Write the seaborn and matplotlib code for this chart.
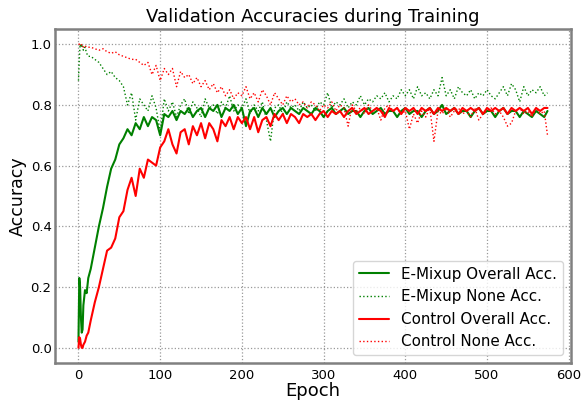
import numpy as np
import pandas as pd
import matplotlib
matplotlib.use("Agg")
import matplotlib.pyplot as plt
import seaborn as sns

epochs = [0, 1, 2, 3, 4, 5, 6, 8, 10, 12] + list(range(15, 571, 5)) + [574]

emix_overall = [
    0.02, 0.23, 0.20, 0.10, 0.05, 0.06, 0.14, 0.19, 0.18, 0.23,
    0.26, 0.33, 0.40, 0.46, 0.53, 0.59, 0.62, 0.67, 0.69, 0.72,
    0.70, 0.74, 0.72, 0.76, 0.73, 0.76, 0.75, 0.70, 0.77, 0.76,
    0.78, 0.75, 0.78, 0.77, 0.79, 0.76, 0.78, 0.79, 0.76, 0.79,
    0.78, 0.80, 0.76, 0.79, 0.78, 0.80, 0.77, 0.79, 0.73, 0.78,
    0.79, 0.76, 0.79, 0.77, 0.79, 0.76, 0.78, 0.79, 0.77, 0.79,
    0.78, 0.77, 0.79, 0.78, 0.77, 0.79, 0.78, 0.76, 0.78, 0.79,
    0.77, 0.78, 0.79, 0.77, 0.78, 0.78, 0.76, 0.78, 0.79, 0.77,
    0.78, 0.79, 0.77, 0.78, 0.78, 0.76, 0.78, 0.79, 0.77, 0.78,
    0.78, 0.76, 0.78, 0.79, 0.77, 0.78, 0.80, 0.77, 0.78, 0.79,
    0.77, 0.78, 0.78, 0.76, 0.78, 0.79, 0.77, 0.78, 0.78, 0.76,
    0.78, 0.79, 0.77, 0.78, 0.78, 0.76, 0.78, 0.77, 0.76, 0.78,
    0.77, 0.76, 0.78,
]

emix_none = [
    0.88, 0.95, 1.00, 0.99, 1.00, 0.99, 0.98, 0.99, 0.97, 0.96,
    0.96, 0.95, 0.94, 0.92, 0.90, 0.91, 0.89, 0.88, 0.86, 0.80,
    0.84, 0.75, 0.82, 0.80, 0.78, 0.83, 0.79, 0.71, 0.82, 0.78,
    0.81, 0.76, 0.80, 0.82, 0.77, 0.81, 0.79, 0.76, 0.82, 0.79,
    0.80, 0.77, 0.81, 0.79, 0.83, 0.78, 0.80, 0.79, 0.82, 0.77,
    0.80, 0.78, 0.81, 0.75, 0.68, 0.79, 0.80, 0.77, 0.81, 0.79,
    0.80, 0.78, 0.81, 0.79, 0.80, 0.78, 0.81, 0.80, 0.84, 0.79,
    0.81, 0.80, 0.82, 0.79, 0.81, 0.80, 0.83, 0.80, 0.82, 0.81,
    0.83, 0.82, 0.84, 0.81, 0.83, 0.82, 0.85, 0.83, 0.85, 0.82,
    0.86, 0.83, 0.84, 0.82, 0.85, 0.83, 0.89, 0.83, 0.85, 0.82,
    0.86, 0.84, 0.83, 0.85, 0.82, 0.84, 0.83, 0.85, 0.83, 0.82,
    0.84, 0.86, 0.83, 0.87, 0.85, 0.81, 0.86, 0.83, 0.85, 0.84,
    0.86, 0.83, 0.84,
]

ctrl_overall = [
    0.00, 0.035, 0.03, 0.01, 0.00, 0.00, 0.01, 0.02, 0.04, 0.05,
    0.09, 0.15, 0.20, 0.26, 0.32, 0.33, 0.36, 0.43, 0.45, 0.52,
    0.56, 0.50, 0.59, 0.56, 0.62, 0.61, 0.60, 0.66, 0.68, 0.72,
    0.67, 0.64, 0.71, 0.72, 0.67, 0.73, 0.70, 0.74, 0.69, 0.74,
    0.72, 0.68, 0.75, 0.73, 0.76, 0.72, 0.76, 0.74, 0.76, 0.72,
    0.76, 0.71, 0.75, 0.76, 0.73, 0.77, 0.75, 0.77, 0.74, 0.77,
    0.76, 0.74, 0.77, 0.76, 0.77, 0.75, 0.77, 0.78, 0.76, 0.78,
    0.77, 0.78, 0.76, 0.78, 0.79, 0.77, 0.78, 0.79, 0.77, 0.78,
    0.79, 0.78, 0.76, 0.79, 0.78, 0.79, 0.77, 0.79, 0.78, 0.79,
    0.77, 0.79, 0.78, 0.79, 0.77, 0.79, 0.78, 0.79, 0.78, 0.79,
    0.77, 0.79, 0.78, 0.79, 0.78, 0.79, 0.77, 0.79, 0.78, 0.79,
    0.78, 0.79, 0.77, 0.79, 0.78, 0.79, 0.78, 0.79, 0.77, 0.79,
    0.78, 0.79, 0.79,
]

ctrl_none = [
    1.00, 1.00, 1.00, 0.995, 1.00, 0.995, 0.99, 0.995, 0.99, 0.99,
    0.99, 0.985, 0.98, 0.985, 0.975, 0.97, 0.975, 0.965, 0.96, 0.955,
    0.95, 0.95, 0.94, 0.93, 0.94, 0.90, 0.93, 0.88, 0.92, 0.90,
    0.92, 0.86, 0.91, 0.89, 0.90, 0.87, 0.89, 0.86, 0.88, 0.85,
    0.87, 0.84, 0.86, 0.83, 0.85, 0.82, 0.84, 0.83, 0.86, 0.82,
    0.84, 0.81, 0.85, 0.83, 0.80, 0.84, 0.82, 0.80, 0.83, 0.81,
    0.82, 0.80, 0.81, 0.79, 0.81, 0.80, 0.78, 0.80, 0.79, 0.81,
    0.78, 0.80, 0.79, 0.73, 0.80, 0.78, 0.79, 0.77, 0.80, 0.78,
    0.79, 0.75, 0.79, 0.80, 0.78, 0.79, 0.77, 0.78, 0.72, 0.77,
    0.74, 0.78, 0.76, 0.79, 0.68, 0.78, 0.77, 0.79, 0.76, 0.78,
    0.79, 0.77, 0.78, 0.76, 0.79, 0.75, 0.77, 0.78, 0.79, 0.77,
    0.78, 0.76, 0.73, 0.74, 0.78, 0.79, 0.77, 0.78, 0.76, 0.79,
    0.77, 0.78, 0.70,
]

labels = ["E-Mixup Overall Acc.", "E-Mixup None Acc.",
          "Control Overall Acc.", "Control None Acc."]

sns.set_style("white")
plt.rcParams['font.family'] = ['DejaVu Sans']
plt.rcParams['text.color'] = 'black'
plt.rcParams['axes.labelcolor'] = 'black'
plt.rcParams['xtick.color'] = 'black'
plt.rcParams['ytick.color'] = 'black'

fig = plt.figure(figsize=(5.81, 4.0), dpi=100)
ax = fig.add_axes([0.0947, 0.0925, 0.888, 0.835])

series = [
    (emix_overall, labels[0], "green", "-", 1.5),
    (emix_none, labels[1], "green", ":", 1.0),
    (ctrl_overall, labels[2], "red", "-", 1.5),
    (ctrl_none, labels[3], "red", ":", 1.0),
]
for vals, lab, col, ls, lw in series:
    df = pd.DataFrame({"Epoch": epochs, "Accuracy": vals})
    sns.lineplot(data=df, x="Epoch", y="Accuracy", ax=ax, color=col,
                 linestyle=ls, linewidth=lw, label=lab)

ax.set_xticks([0, 100, 200, 300, 400, 500, 600])
ax.set_yticks([0.0, 0.2, 0.4, 0.6, 0.8, 1.0])
ax.set_xlim(-28.7, 602.7)
ax.set_ylim(-0.05, 1.05)
ax.grid(True, color="#999999", linestyle=":", linewidth=0.9)
for sp in ax.spines.values():
    sp.set_color("#808080")
    sp.set_linewidth(1.8)
ax.tick_params(axis="both", labelsize=9.5, length=2, width=0.8,
               color="#808080", direction="out", pad=2,
               labelcolor="black")
ax.tick_params(axis="y", pad=0.5)
ax.set_title("Validation Accuracies during Training", fontsize=13, pad=5)
ax.set_xlabel("Epoch", fontsize=13, labelpad=0)
ax.set_ylabel("Accuracy", fontsize=12.5, labelpad=3)
leg = ax.legend(loc="lower right", fontsize=10.9, frameon=True, fancybox=True)
for t in leg.get_texts():
    t.set_color("black")

fig.savefig("out.png", dpi=100)
